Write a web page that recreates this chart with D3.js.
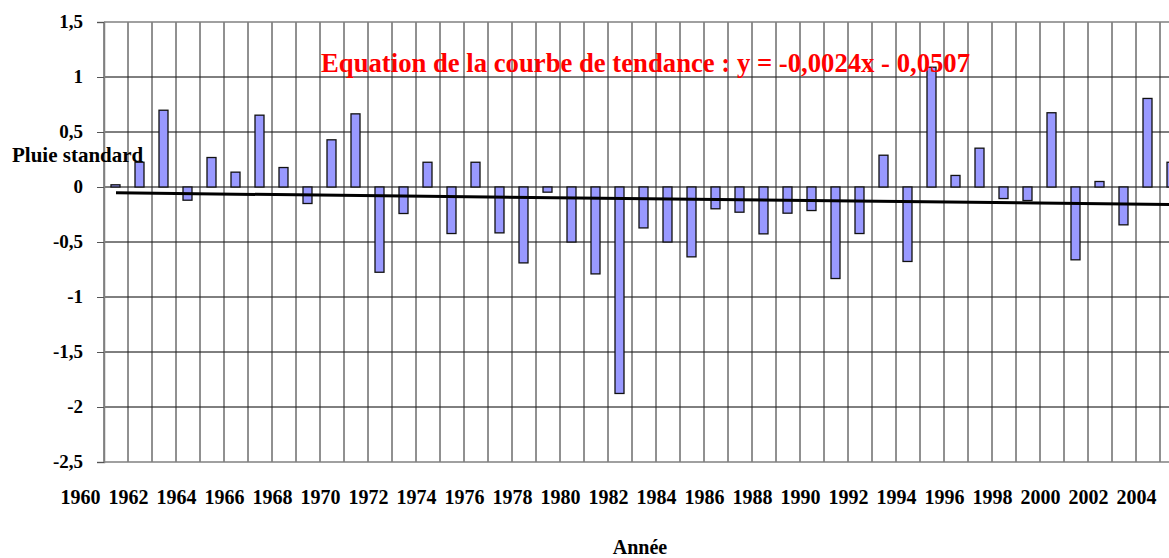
<!DOCTYPE html>
<html>
<head>
<meta charset="utf-8">
<script src="https://cdn.jsdelivr.net/npm/d3@7"></script>
<style>
	html, body { margin: 0; padding: 0; background: #fff; }
	svg { display: block; }
	svg text { font-family: "Liberation Serif", "Times New Roman", serif; font-weight: bold; }
</style>
</head>
<body>
<div id="chart"></div>
<script>
/* Données */
const annees = [1961, 1962, 1963, 1964, 1965, 1966, 1967, 1968, 1969, 1970,
	1971, 1972, 1973, 1974, 1975, 1976, 1977, 1978, 1979, 1980,
	1981, 1982, 1983, 1984, 1985, 1986, 1987, 1988, 1989, 1990,
	1991, 1992, 1993, 1994, 1995, 1996, 1997, 1998, 1999, 2000,
	2001, 2002, 2003, 2004, 2005];
const pluie = [0.02, 0.225, 0.698, -0.12, 0.268, 0.135, 0.653, 0.177, -0.15, 0.429,
	0.665, -0.775, -0.241, 0.225, -0.423, 0.225, -0.417, -0.69, -0.047, -0.50,
	-0.79, -1.877, -0.372, -0.50, -0.635, -0.198, -0.229, -0.426, -0.238, -0.214,
	-0.832, -0.423, 0.289, -0.677, 1.089, 0.105, 0.353, -0.105, -0.123, 0.675,
	-0.662, 0.05, -0.344, 0.805, 0.225];
const etiquettesAnnees = [1960, 1962, 1964, 1966, 1968, 1970, 1972, 1974, 1976, 1978,
	1980, 1982, 1984, 1986, 1988, 1990, 1992, 1994, 1996, 1998, 2000, 2002, 2004];
const ticksY = [1.5, 1, 0.5, 0, -0.5, -1, -1.5, -2, -2.5];
const pente = -0.0024;
const ordonnee = -0.0507;
const titre = "Equation de la courbe de tendance : y = -0,0024x - 0,0507";

const W = 1169, H = 558;
const M = { top: 22, left: 104, bottom: 462 };
const cell = 24;
const serif = "'Liberation Serif', 'Times New Roman', serif";

const svg = d3.select("#chart").append("svg").attr("width", W).attr("height", H);

const x = d3.scaleBand().domain(annees).range([M.left, M.left + annees.length * cell]).padding(0);
const xAxe = d3.scaleLinear().domain([annees[0], annees[annees.length - 1] + 1]).range(x.range());
const y = d3.scaleLinear().domain([-2.5, 1.5]).range([M.bottom, M.top]);
const fmt = v => String(v).replace(".", ",");

// grille horizontale
svg.append("g").selectAll("line").data(ticksY.filter(d => d !== 1.5 && d !== -2.5)).join("line")
	.attr("x1", M.left).attr("x2", W)
	.attr("y1", d => y(d)).attr("y2", d => y(d))
	.attr("stroke", "#000").attr("stroke-width", 1);

// grille verticale
svg.append("g").selectAll("line").data(annees.concat([annees[annees.length - 1] + 1])).join("line")
	.attr("x1", d => xAxe(d)).attr("x2", d => xAxe(d))
	.attr("y1", M.top).attr("y2", M.bottom)
	.attr("stroke", "#222").attr("stroke-width", 1);

// cadre haut / bas
svg.append("line").attr("x1", M.left).attr("x2", W).attr("y1", M.top).attr("y2", M.top)
	.attr("stroke", "#808080").attr("stroke-width", 1.5);
svg.append("line").attr("x1", M.left).attr("x2", W).attr("y1", M.bottom).attr("y2", M.bottom)
	.attr("stroke", "#808080").attr("stroke-width", 1.5);

// axe Y
const gy = svg.append("g").attr("transform", `translate(${M.left},0)`)
	.call(d3.axisLeft(y).tickValues(ticksY).tickSize(7).tickPadding(14).tickFormat(fmt));
gy.attr("font-family", null);
gy.select(".domain").attr("stroke", "#808080").attr("stroke-width", 1.5);
gy.selectAll(".tick line").attr("stroke", "#555");
gy.selectAll("text").style("font-size", "19px").style("font-family", serif)
	.style("font-weight", "bold").attr("fill", "#000").attr("dy", "0.3em");

// barres
const bw = 9;
svg.append("g").selectAll("rect").data(annees).join("rect")
	.attr("x", d => x(d) + 7)
	.attr("width", bw)
	.attr("y", (d, i) => y(Math.max(0, pluie[i])))
	.attr("height", (d, i) => Math.max(1, Math.abs(y(pluie[i]) - y(0))))
	.attr("fill", "#9999ff").attr("stroke", "#111").attr("stroke-width", 1.3);

// courbe de tendance
const idx = [1, annees.length + 1];
svg.append("line")
	.attr("x1", x(annees[0]) + cell / 2)
	.attr("x2", x(annees[0]) + cell / 2 + (idx[1] - idx[0]) * cell)
	.attr("y1", y(pente * idx[0] + ordonnee))
	.attr("y2", y(pente * idx[1] + ordonnee))
	.attr("stroke", "#000").attr("stroke-width", 3);

// axe X (étiquettes)
const gx = svg.append("g").attr("transform", `translate(0,${M.bottom})`)
	.call(d3.axisBottom(xAxe).tickValues(etiquettesAnnees).tickSize(0).tickPadding(28).tickFormat(d => d));
gx.attr("font-family", null);
gx.select(".domain").remove();
gx.selectAll("text").style("font-size", "20px").style("font-family", serif)
	.style("font-weight", "bold").attr("fill", "#000");

// textes
svg.append("text").attr("x", 321).attr("y", 72).attr("fill", "#ff0000").style("font-size", "26.7px").text(titre);
svg.append("text").attr("x", 12).attr("y", 162).attr("fill", "#000").style("font-size", "21px").text("Pluie standard");
svg.append("text").attr("x", 640).attr("y", 554).attr("text-anchor", "middle").attr("fill", "#000").style("font-size", "20px").text("Année");
</script>
</body>
</html>
